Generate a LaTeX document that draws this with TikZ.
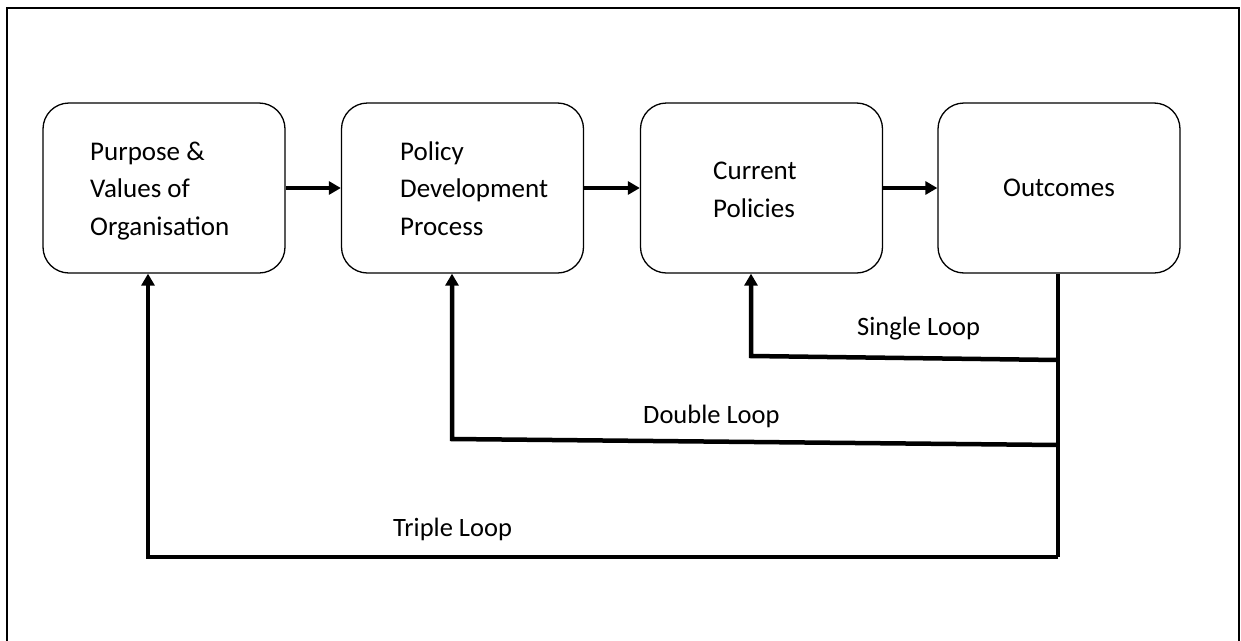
\documentclass[tikz,border=0pt]{standalone}
\usepackage{fontspec}
\setmainfont{Carlito}
\usetikzlibrary{arrows.meta}
\begin{document}
\begin{tikzpicture}[x=1pt,y=-1pt,
  box/.style={draw, line width=1.3pt, rounded corners=26pt, minimum width=242pt, minimum height=170pt, inner sep=0pt},
  txt/.style={font=\fontsize{27}{37.5}\selectfont, align=left, inner sep=0pt, anchor=base west},
  lbl/.style={font=\fontsize{26.5}{32}\selectfont, inner sep=0pt, anchor=base west},
  flow/.style={line width=4.5pt, line join=miter, -{Triangle[length=12pt,width=13pt]}},
  fb/.style={line width=4.5pt, line join=miter}]
\useasboundingbox (0,0) rectangle (1241,640);
\draw[line width=2pt] (7,650) -- (7,8) -- (1239,8) -- (1239,650);

\node[box] (b1) at (164,188) {};
\node[box] (b2) at (462.5,188) {};
\node[box] (b3) at (761.5,188) {};
\node[box] (b4) at (1059,188) {};

\node[txt] (t1) at (90,235) {Purpose \&\\Values of\\Organisation};
\node[txt] (t2) at (400,235) {Policy\\Development\\Process};
\node[txt] (t3) at (713,217) {Current\\Policies};
\node[font=\fontsize{27}{37.5}\selectfont, inner sep=0pt] (t4) at (b4.center) {Outcomes};

\draw[flow] (b1) -- (b2);
\draw[flow] (b2) -- (b3);
\draw[flow] (b3) -- (b4);

\coordinate (o1) at (1058,360);
\coordinate (o2) at (1058,445);
\coordinate (o3) at (1058,557);
\coordinate (c1) at (751,356);
\coordinate (c2) at (452,439);
\coordinate (c3) at (148,557);

\draw[fb] (b4.south -| o1) -- (o3);
\draw[flow] (o1) -- (c1) -- (c1 |- b3.south);
\draw[flow] (o2) -- (c2) -- (c2 |- b2.south);
\draw[flow] (o3) -- (c3) -- (c3 |- b1.south);

\node[lbl] (l1) at (857,335) {Single Loop};
\node[lbl] (l2) at (643,423) {Double Loop};
\node[lbl] (l3) at (393,536) {Triple Loop};
\end{tikzpicture}
\end{document}
